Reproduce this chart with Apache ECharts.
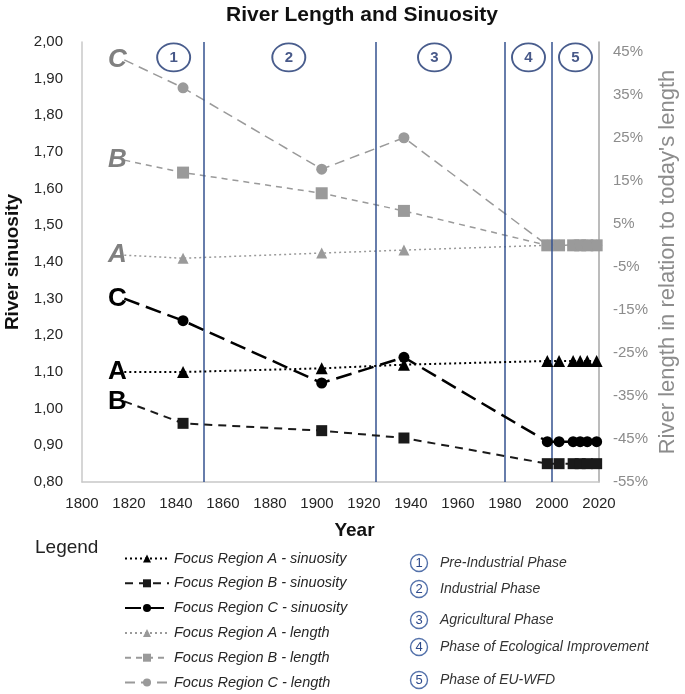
<!DOCTYPE html>
<html>
<head>
<meta charset="utf-8">
<script src="https://cdn.jsdelivr.net/npm/echarts@6/dist/echarts.min.js"></script>
<style>html,body{margin:0;padding:0;background:#fff;}#c{width:685px;height:694px;}</style>
</head>
<body>
<div id="c"></div>
<script>
// ---- data ----
var years = [1818, 1843, 1902, 1937, 1998, 2003, 2009, 2012, 2015, 2019];
var sinA = [1.10, 1.10, 1.11, 1.12, 1.13, 1.13, 1.13, 1.13, 1.13, 1.13];
var sinB = [1.02, 0.96, 0.94, 0.92, 0.85, 0.85, 0.85, 0.85, 0.85, 0.85];
var sinC = [1.30, 1.24, 1.07, 1.14, 0.91, 0.91, 0.91, 0.91, 0.91, 0.91];
var lenA = [-0.023, -0.030, -0.018, -0.011, 0, 0, 0, 0, 0, 0];
var lenB = [0.198, 0.169, 0.121, 0.080, 0, 0, 0, 0, 0, 0];
var lenC = [0.431, 0.366, 0.177, 0.250, 0, 0, 0, 0, 0, 0];
var seriesNames = ['Focus Region A - sinuosity', 'Focus Region B - sinuosity', 'Focus Region C - sinuosity',
                   'Focus Region A - length', 'Focus Region B - length', 'Focus Region C - length'];
var seriesLetters = ['A', 'B', 'C', 'A', 'B', 'C'];
var phaseBounds = [1852, 1925, 1980, 2000];
var phaseNums = ['1', '2', '3', '4', '5'];
var phaseLabelYears = [1839, 1888, 1950, 1990, 2010];
var phaseLabelLevel = 1.958;
var phaseNames = ['Pre-Industrial Phase', 'Industrial Phase', 'Agricultural Phase',
                  'Phase of Ecological Improvement', 'Phase of EU-WFD'];
var xTicks = {min: 1800, max: 2020, interval: 20};
var yLeftTicks = {min: 0.8, max: 2.0, interval: 0.1};
var yRightTicks = {min: -0.55, max: 0.4725, interval: 0.1};

var NARROW = "'Liberation Sans Narrow','Arial Narrow','Liberation Sans',sans-serif";
var SANS = "'Liberation Sans',Arial,sans-serif";

function build(vals, letter, labelStyle) {
  return years.map(function (y, i) {
    if (i === 0) {
      return {value: [y, vals[i]], symbol: 'circle', symbolSize: 1,
        itemStyle: {color: 'rgba(0,0,0,0)'},
        label: Object.assign({show: true, formatter: letter, position: 'left', distance: -3}, labelStyle)};
    }
    return [y, vals[i]];
  });
}

var blackLbl = {fontSize: 26, fontWeight: 'bold', color: '#000', fontFamily: SANS};
var grayLbl = {fontSize: 26, fontWeight: 'bold', fontStyle: 'italic', color: '#808080', fontFamily: SANS};

var styles = [
  {vals: sinA, axis: 0, color: '#000', type: [2, 3], width: 2, symbol: 'triangle', size: 12, lbl: blackLbl, z: 5},
  {vals: sinB, axis: 0, color: '#1a1a1a', type: [8, 6], width: 2, symbol: 'rect', size: 11, lbl: blackLbl, z: 5},
  {vals: sinC, axis: 0, color: '#000', type: [16, 7], width: 2.5, symbol: 'circle', size: 11, lbl: blackLbl, z: 5},
  {vals: lenA, axis: 1, color: '#9a9a9a', type: [2, 3], width: 1.5, symbol: 'triangle', size: 11, lbl: grayLbl, z: 4},
  {vals: lenB, axis: 1, color: '#9a9a9a', type: [6, 5], width: 1.5, symbol: 'rect', size: 12, lbl: grayLbl, z: 4},
  {vals: lenC, axis: 1, color: '#9a9a9a', type: [10, 6], width: 1.5, symbol: 'circle', size: 11, lbl: grayLbl, z: 4}
];

var series = styles.map(function (s, i) {
  return {
    name: seriesNames[i], type: 'line', yAxisIndex: s.axis, z: s.z,
    data: build(s.vals, seriesLetters[i], s.lbl),
    symbol: s.symbol, symbolSize: s.size, showSymbol: true,
    itemStyle: {color: s.color},
    lineStyle: {color: s.color, width: s.width, type: s.type},
    label: {show: false},
    emphasis: {disabled: true},
    animation: false
  };
});

// phase boundaries
series.push({
  name: 'phases', type: 'line', data: [], yAxisIndex: 0, animation: false,
  markLine: {
    silent: true, symbol: 'none', label: {show: false},
    lineStyle: {color: '#34528f', width: 1.5, type: 'solid'},
    data: phaseBounds.map(function (b) { return {xAxis: b}; })
  }
});
// phase number circles
series.push({
  name: 'phaseNums', type: 'scatter', yAxisIndex: 0, z: 6, animation: false,
  symbol: 'circle', symbolSize: [33, 28],
  itemStyle: {color: '#fff', borderColor: '#1c3570', borderWidth: 1.8},
  label: {show: true, position: 'inside', formatter: function (p) { return p.value[2]; },
          color: '#1a2f6b', fontWeight: 'bold', fontSize: 15, fontFamily: SANS},
  data: phaseLabelYears.map(function (y, i) { return [y, phaseLabelLevel, phaseNums[i]]; })
});

// right side legend (phases) as graphic
var phaseLegendY = [563, 589, 620, 647, 680];
var graphics = [{type: 'text', x: 35, y: 548, style: {text: 'Legend', font: "19px " + SANS, fill: '#222',
  verticalAlign: 'middle'}}];
phaseNames.forEach(function (n, i) {
  graphics.push({type: 'circle', shape: {cx: 419, cy: phaseLegendY[i], r: 8.5},
    style: {fill: '#fff', stroke: '#5472ab', lineWidth: 1.4}});
  graphics.push({type: 'text', x: 419, y: phaseLegendY[i] + 0.5, style: {text: phaseNums[i], font: "13px " + SANS,
    fill: '#2e4a8a', align: 'center', verticalAlign: 'middle'}});
  graphics.push({type: 'text', x: 440, y: phaseLegendY[i], style: {text: n, font: "italic 14px " + SANS,
    fill: '#333', align: 'left', verticalAlign: 'middle'}});
});

var option = {
  backgroundColor: '#fff',
  animation: false,
  title: {text: 'River Length and Sinuosity', left: 357, textAlign: 'center', top: 0,
    textStyle: {fontSize: 21, fontWeight: 'bold', color: '#111', fontFamily: SANS}},
  grid: {left: 82, right: 86, top: 42, bottom: 212, outerBoundsMode: 'none', containLabel: false},
  legend: {
    data: seriesNames, orient: 'vertical', left: 124, top: 551, padding: 0,
    itemWidth: 44, itemHeight: 10, itemGap: 9.8, selectedMode: false,
    textStyle: {fontSize: 14.5, lineHeight: 15, fontStyle: 'italic', color: '#262626', fontFamily: SANS}
  },
  xAxis: {
    type: 'value', min: xTicks.min, max: xTicks.max, interval: xTicks.interval,
    name: 'Year', nameLocation: 'middle', nameGap: 39, nameMoveOverlap: false,
    nameTextStyle: {fontSize: 19, fontWeight: 'bold', color: '#111', fontFamily: SANS, padding: [0, 0, 0, 28]},
    axisLine: {show: true, onZero: false, lineStyle: {color: '#c8c8c8', width: 1.5}},
    axisTick: {show: false}, splitLine: {show: false},
    axisLabel: {fontSize: 15, color: '#262626', fontFamily: NARROW, margin: 14,
      formatter: function (v) { return String(v); }}
  },
  yAxis: [{
    type: 'value', min: yLeftTicks.min, max: yLeftTicks.max, interval: yLeftTicks.interval,
    name: 'River sinuosity', nameLocation: 'middle', nameGap: 60, nameRotate: 90, nameMoveOverlap: false,
    nameTextStyle: {fontSize: 19, fontWeight: 'bold', color: '#111', fontFamily: SANS},
    axisLine: {show: true, onZero: false, lineStyle: {color: '#c8c8c8', width: 1.5}},
    axisTick: {show: false}, splitLine: {show: false},
    axisLabel: {fontSize: 15, color: '#262626', fontFamily: NARROW, margin: 19,
      formatter: function (v) { return v.toFixed(2).replace('.', ','); }}
  }, {
    type: 'value', position: 'right', min: yRightTicks.min, max: yRightTicks.max, interval: yRightTicks.interval,
    name: "River length in relation to today's length", nameLocation: 'middle', nameGap: 58, nameRotate: 90,
    nameMoveOverlap: false,
    nameTextStyle: {fontSize: 22, color: '#8c8c8c', fontFamily: SANS},
    axisLine: {show: true, onZero: false, lineStyle: {color: '#a6a6a6', width: 1.5}},
    axisTick: {show: false}, splitLine: {show: false},
    axisLabel: {fontSize: 15, color: '#8c8c8c', fontFamily: NARROW, margin: 14, showMaxLabel: false,
      formatter: function (v) { var p = Math.round(v * 100); return p > 46 ? '' : p + '%'; }}
  }],
  graphic: graphics,
  series: series
};
var chart = echarts.init(document.getElementById('c'), null, {renderer: 'canvas'});
chart.setOption(option);
</script>
</body>
</html>
